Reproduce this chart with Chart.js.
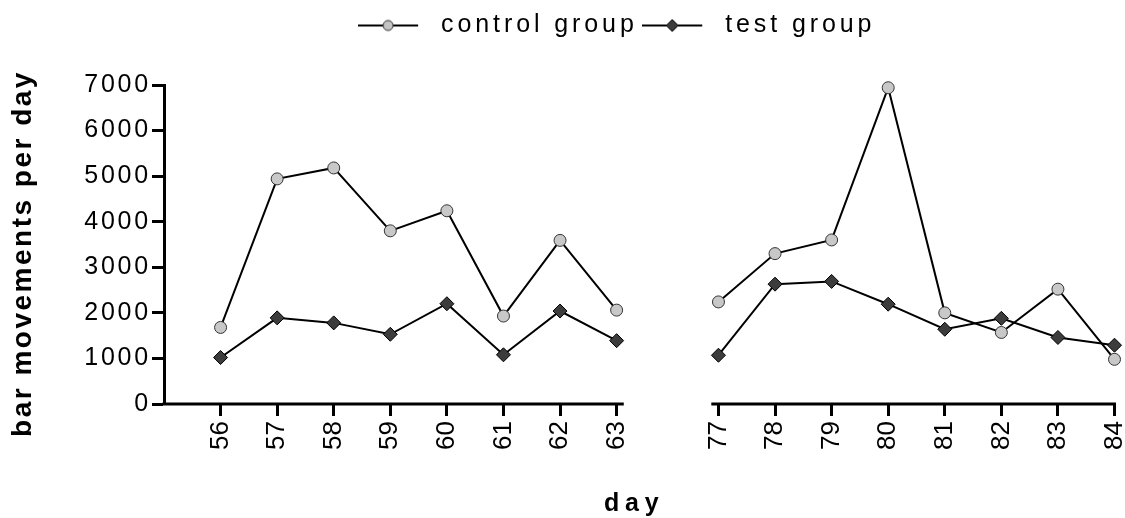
<!DOCTYPE html>
<html>
<head>
<meta charset="utf-8">
<script src="https://cdn.jsdelivr.net/npm/chart.js@4.4.1/dist/chart.umd.min.js"></script>
<style>
  html, body { margin: 0; padding: 0; background: #fff; }
  #wrap { width: 1125px; height: 518px; position: relative; }
</style>
</head>
<body>
<div id="wrap"><canvas id="chart"></canvas></div>
<script>
const leftDays = [56, 57, 58, 59, 60, 61, 62, 63];
const rightDays = [77, 78, 79, 80, 81, 82, 83, 84];

const controlLeft = [1680, 4940, 5180, 3800, 4240, 1930, 3590, 2060];
const controlRight = [2240, 3300, 3600, 6940, 2000, 1570, 2520, 980];
const testLeft = [1020, 1890, 1780, 1530, 2200, 1080, 2040, 1390];
const testRight = [1070, 2630, 2690, 2190, 1640, 1880, 1460, 1290];

const yTicks = [0, 1000, 2000, 3000, 4000, 5000, 6000, 7000];
const seriesNames = ['control group', 'test group'];

const allDays = leftDays.concat(rightDays);

// broken x axis: the two blocks of days sit side by side with a short gap
const GAP = 1.8;
function axisPos(day) {
  const lastLeft = leftDays[leftDays.length - 1];
  if (day <= lastLeft) return day - (leftDays[0] - 1);
  return day - rightDays[0] + leftDays.length + GAP;
}

function points(leftVals, rightVals) {
  const pts = leftDays.map((d, i) => ({ x: axisPos(d), y: leftVals[i] }));
  // null point so the line breaks across the gap
  pts.push({ x: axisPos(leftDays[leftDays.length - 1]) + GAP / 2, y: null });
  rightDays.forEach((d, i) => pts.push({ x: axisPos(d), y: rightVals[i] }));
  return pts;
}

// little line+marker pictures for the legend
function legendSymbol(marker) {
  const c = document.createElement('canvas');
  c.width = 66;
  c.height = 16;
  const g = c.getContext('2d');
  g.strokeStyle = '#000';
  g.lineWidth = 2;
  g.beginPath();
  g.moveTo(0, 8);
  g.lineTo(60, 8);
  g.stroke();
  g.lineWidth = 1;
  g.beginPath();
  if (marker === 'circle') {
    g.arc(30, 8, 5, 0, Math.PI * 2);
    g.fillStyle = '#c4c4c4';
    g.strokeStyle = '#333';
  } else {
    g.moveTo(24, 8); g.lineTo(30, 2); g.lineTo(36, 8); g.lineTo(30, 14); g.closePath();
    g.fillStyle = '#3c3c3c';
    g.strokeStyle = '#000';
  }
  g.fill();
  g.stroke();
  return c;
}
const legendSymbols = [legendSymbol('circle'), legendSymbol('diamond')];

// run a box method with canvas letter spacing (and an optional shift)
function tweak(obj, method, spacing, dx, dy) {
  const orig = obj[method];
  obj[method] = function (...args) {
    const ctx = this.ctx;
    ctx.save();
    ctx.letterSpacing = spacing + 'px';
    if (dx || dy) ctx.translate(dx || 0, dy || 0);
    const r = orig.apply(this, args);
    ctx.restore();
    return r;
  };
}

const brokenAxis = {
  id: 'brokenAxis',
  beforeLayout(chart) {
    if (chart.$tweaked) return;
    chart.$tweaked = true;
    const legend = chart.legend;
    const fit = legend.fit;
    legend.fit = function () {
      fit.apply(this, arguments);
      this.height = 72;
    };
    tweak(legend, 'update', 3.9);
    tweak(legend, 'draw', 3.9, 52, 0);
    tweak(chart.scales.y, 'drawLabels', 2.8);
    tweak(chart.scales.y, 'drawTitle', 2.5, 0, 9);
    tweak(chart.scales.x, 'drawTitle', 5.8, -5, 0);
  },
  beforeDatasetsDraw(chart) {
    const { ctx, scales: { x, y } } = chart;
    const y0 = y.getPixelForValue(0);
    const segments = [
      [0, axisPos(leftDays[leftDays.length - 1]) + 0.1],
      [axisPos(rightDays[0]) - 0.1, axisPos(rightDays[rightDays.length - 1])]
    ];
    ctx.save();
    ctx.strokeStyle = '#000';
    ctx.lineWidth = 3;
    segments.forEach(([a, b]) => {
      ctx.beginPath();
      ctx.moveTo(x.getPixelForValue(a) - 1.5, y0);
      ctx.lineTo(x.getPixelForValue(b) + 1.5, y0);
      ctx.stroke();
    });
    ctx.restore();
  }
};

Chart.defaults.font.family = "'Liberation Sans', Arial, sans-serif";
Chart.defaults.color = '#000';

new Chart(document.getElementById('chart'), {
  type: 'line',
  data: {
    datasets: [{
      label: seriesNames[0],
      data: points(controlLeft, controlRight),
      borderColor: '#000',
      borderWidth: 2,
      pointStyle: 'circle',
      pointRadius: 6,
      pointBackgroundColor: '#c8c8c8',
      pointBorderColor: '#333',
      pointBorderWidth: 1,
      tension: 0,
      clip: false
    }, {
      label: seriesNames[1],
      data: points(testLeft, testRight),
      borderColor: '#000',
      borderWidth: 2,
      pointStyle: 'rectRot',
      pointRadius: 7,
      pointBackgroundColor: '#3c3c3c',
      pointBorderColor: '#000',
      pointBorderWidth: 1,
      tension: 0,
      clip: false
    }]
  },
  options: {
    responsive: true,
    maintainAspectRatio: false,
    animation: false,
    layout: { padding: { top: 13, left: 0, right: 0, bottom: 0 } },
    scales: {
      x: {
        type: 'linear',
        min: 0,
        max: axisPos(rightDays[rightDays.length - 1]),
        border: { display: false },
        grid: { drawOnChartArea: false, drawTicks: true, tickLength: 12, tickWidth: 3, tickColor: '#000' },
        afterBuildTicks: (scale) => {
          scale.ticks = allDays.map(d => ({ value: axisPos(d) }));
        },
        afterFit: (scale) => {
          scale.height = 114;
          scale.paddingLeft = 0;
          scale.paddingRight = 10.5;
        },
        ticks: {
          autoSkip: false,
          minRotation: 90,
          maxRotation: 90,
          padding: 5,
          font: { size: 26 },
          callback: (value, index) => String(allDays[index])
        },
        title: {
          display: true,
          text: 'day',
          font: { size: 25, weight: 'bold', lineHeight: 1 },
          padding: { top: 0, bottom: 1 }
        }
      },
      y: {
        min: 0,
        max: 7000,
        border: { display: true, color: '#000', width: 3 },
        grid: { drawOnChartArea: false, drawTicks: true, tickLength: 12, tickWidth: 3, tickColor: '#000' },
        afterBuildTicks: (scale) => {
          scale.ticks = yTicks.map(v => ({ value: v }));
        },
        afterFit: (scale) => {
          scale.width = 164;
        },
        ticks: {
          padding: 1,
          font: { size: 25 },
          callback: (value) => String(value)
        },
        title: {
          display: true,
          text: 'bar movements per day',
          font: { size: 28, weight: 'bold', lineHeight: 1 },
          padding: { top: 9, bottom: 0 }
        }
      }
    },
    plugins: {
      legend: {
        position: 'top',
        labels: {
          usePointStyle: true,
          pointStyleWidth: 75,
          padding: 0,
          color: '#000',
          font: { size: 25 },
          generateLabels: (chart) => {
            const items = Chart.defaults.plugins.legend.labels.generateLabels(chart);
            items.forEach((item, i) => { item.pointStyle = legendSymbols[i]; });
            return items;
          }
        }
      },
      tooltip: { enabled: false }
    }
  },
  plugins: [brokenAxis]
});
</script>
</body>
</html>
